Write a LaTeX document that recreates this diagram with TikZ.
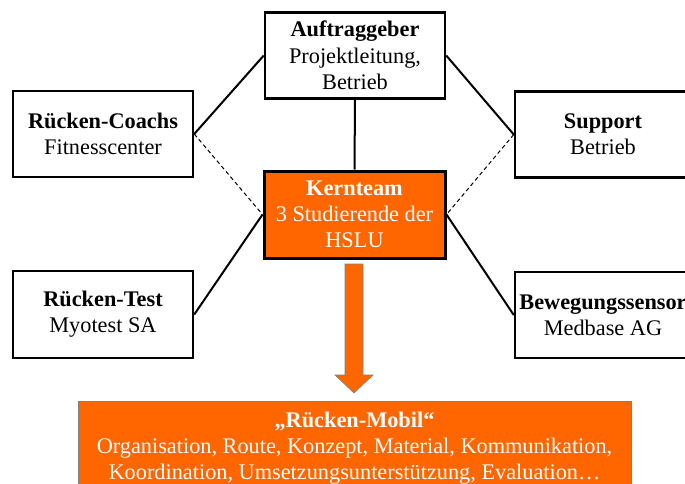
\documentclass[tikz,border=0pt]{standalone}
\usepackage{fontspec}
\setmainfont{Liberation Serif}
\definecolor{orng}{HTML}{FF6600}
\definecolor{edgegray}{HTML}{7F7F7F}
\begin{document}
\begin{tikzpicture}[x=1pt,y=-1pt,
  txt/.style={font=\fontsize{22.3}{26.3}\selectfont, align=center, inner sep=0pt},
  box/.style={txt, draw=black, line width=2.5pt, fill=white},
  corebox/.style={txt, draw=black, line width=3pt, fill=orng, text=white},
  resultbox/.style={txt, draw=edgegray, line width=1pt, fill=orng, text=white},
  conn/.style={draw=black, line width=2pt},
  dashconn/.style={draw=black, line width=1pt, dash pattern=on 4pt off 3pt},
  blockarrow/.style={fill=orng, draw=edgegray, line width=0.6pt}
]
\useasboundingbox (0,0) rectangle (685,483);
\clip (0,0) rectangle (685,483);

\node[box, minimum width=180pt, minimum height=86pt] (auf) at (355,55.5)
  {\textbf{Auftraggeber}\\Projektleitung,\\Betrieb};
\node[box, minimum width=180pt, minimum height=86pt] (coach) at (103,134)
  {\textbf{Rücken-Coachs}\\Fitnesscenter};
\node[box, minimum width=176pt, minimum height=86pt] (sup) at (603,134.5)
  {\textbf{Support}\\Betrieb};
\node[box, minimum width=180pt, minimum height=87pt] (test) at (103,314.5)
  {\textbf{Rücken-Test}\\Myotest SA};
\node[box, minimum width=176pt, minimum height=86pt] (bew) at (603,315)
  {\textbf{Bewegungssensor}\\Medbase AG};
\node[corebox, minimum width=181pt, minimum height=87pt] (kern) at (354.5,214.5)
  {\textbf{Kernteam}\\3 Studierende der\\HSLU};
\node[resultbox, minimum width=553pt, minimum height=94pt] (mobil) at (354.5,448)
  {\textbf{„Rücken-Mobil“}\\Organisation, Route, Konzept, Material, Kommunikation,\\Koordination, Umsetzungsunterstützung, Evaluation…};

\draw[conn] (coach.east) -- (auf.west);
\draw[conn] (auf.east) -- (sup.west);
\draw[conn] (auf.south) -- (kern.north);
\draw[dashconn] (coach.east) -- (kern.west);
\draw[dashconn] (sup.west) -- (kern.east);
\draw[conn] (test.east) -- (kern.west);
\draw[conn] (bew.west) -- (kern.east);

% block arrow from Kernteam to result
\draw[blockarrow] (345,264) -- (363,264) -- (363,375) -- (373,375)
  -- (354,393) -- (335,375) -- (345,375) -- cycle;
\end{tikzpicture}
\end{document}
